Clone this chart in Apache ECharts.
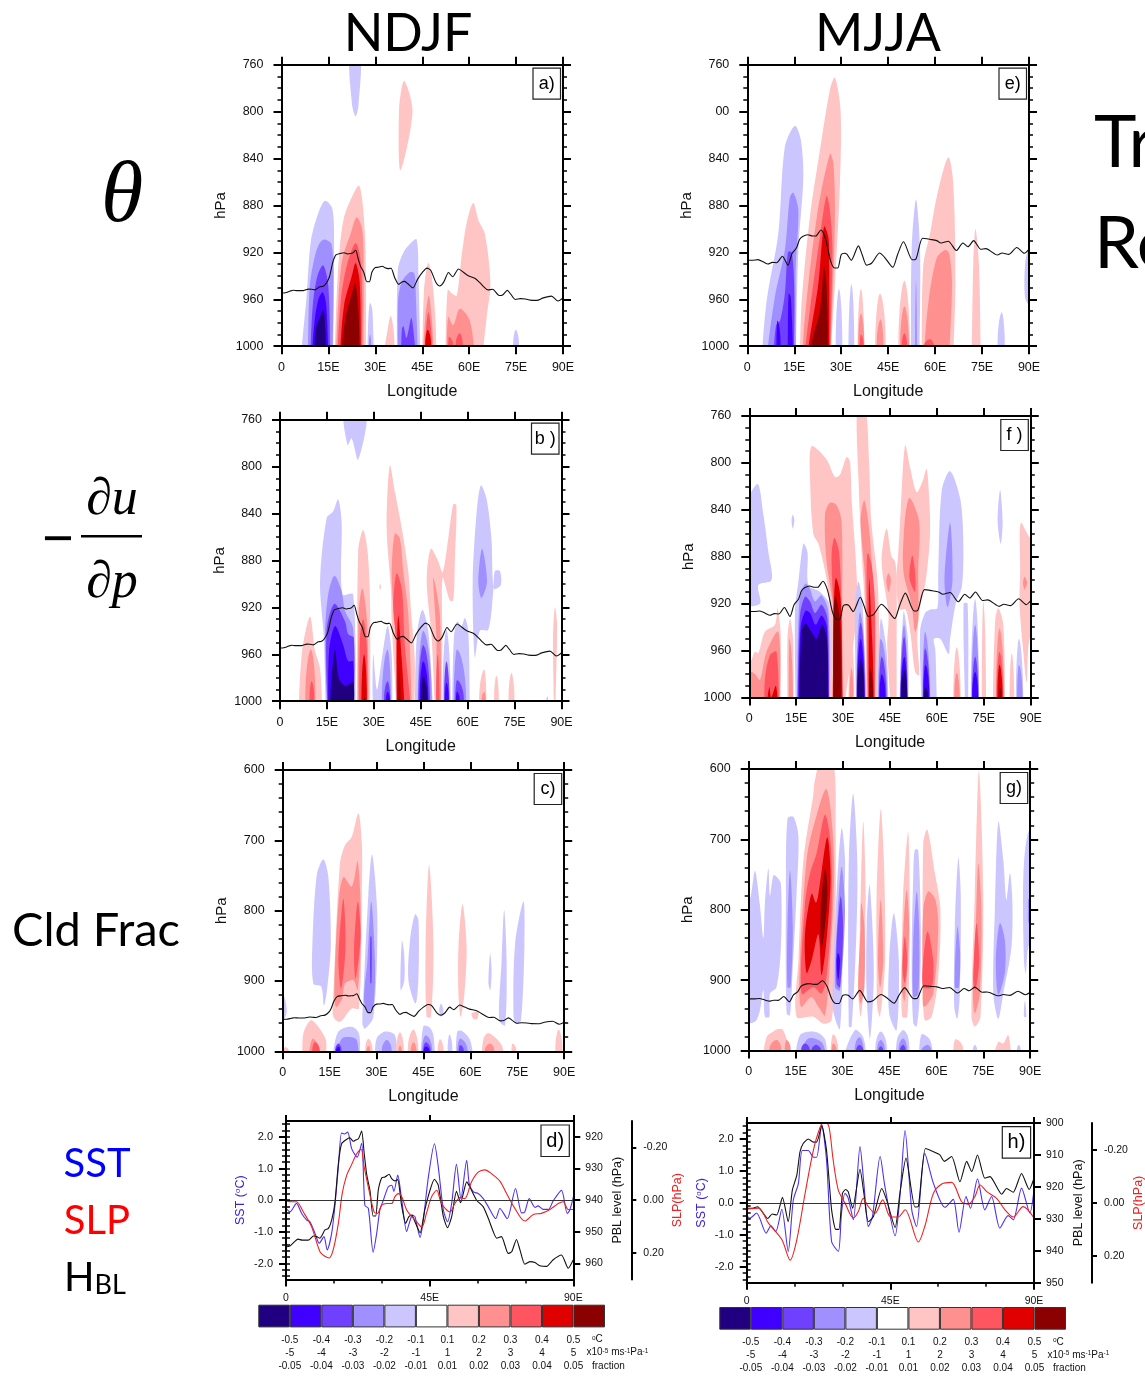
<!DOCTYPE html>
<html><head><meta charset="utf-8">
<style>html,body{margin:0;padding:0;background:#fff;overflow:hidden}#c{width:1145px;height:1377px}</style>
<script src="https://cdn.jsdelivr.net/npm/echarts@6/dist/echarts.min.js"></script>
</head><body><div id="c"></div>
<script>
// ---------- values ----------
const levelColors = {'-5':'#200080','-4':'#4000ff','-3':'#7040ff','-2':'#a090ff','-1':'#ccc6ff','0':'#ffffff','1':'#ffc4c4','2':'#ff9090','3':'#ff5560','4':'#e00000','5':'#8b0000'};
const colorbarLevels = [-5,-4,-3,-2,-1,0,1,2,3,4,5];
const rowSST = ['-0.5','-0.4','-0.3','-0.2','-0.1','0.1','0.2','0.3','0.4','0.5'];
const rowDudp = ['-5','-4','-3','-2','-1','1','2','3','4','5'];
const rowCld = ['-0.05','-0.04','-0.03','-0.02','-0.01','0.01','0.02','0.03','0.04','0.05'];

const ndjfPBL = [[0,954.7],[1.2,954.5],[2.8,953],[3.7,952.3],[5.1,952.6],[7,952.6],[8.6,951.3],[9.6,951.5],[10.6,952],[12.2,949.4],[13.3,948.9],[14.3,946.3],[15.3,941],[16.4,928.5],[17.4,922.2],[18.7,921],[20,920.3],[21.1,921.4],[21.8,921],[22.7,920.6],[23.7,918.2],[24.5,925.3],[25.3,932],[26.3,936.9],[27.3,945],[28.1,945],[28.9,936.9],[30,932.9],[31,932.7],[32.3,931.8],[33.1,933.2],[34.1,933.9],[35,933.5],[36.2,941.6],[37.5,947.3],[38.5,945.2],[39.4,944.7],[40.4,946.8],[42,950.3],[43.5,943],[45.1,936.9],[46.5,933.4],[47.7,935.3],[49.3,945.2],[50.6,948.7],[51.9,945.2],[53.4,937.2],[54.7,940.8],[56.6,934.2],[57.6,935.8],[59.7,940],[61.8,942.1],[63.4,945.8],[64.9,949.9],[66,952],[67.5,951.5],[69.6,956.8],[70.7,956.3],[72.2,952.4],[73.3,955.7],[74.8,960.2],[76.4,959.4],[78,959.7],[79.5,960.7],[81.6,960.9],[83.7,958.8],[86.3,957.3],[88.4,961.5],[90,958.8]];
const ndjfSST = [[0,-.26],[1.25,-.37],[3.3,-.1],[4.9,-.42],[6.5,-.63],[7.5,-.68],[9.1,-1.05],[10.4,-1.36],[11.9,-1.15],[12.9,-1.57],[14.3,-1.05],[15.3,-.2],[16.4,1.05],[17.4,2.12],[18.3,2.09],[19.3,2.15],[20.6,1.62],[22.3,1.36],[23.7,1.8],[24.7,-.16],[25.8,-.26],[27.3,-1.64],[28.4,-1.05],[29.4,-.31],[30.5,0],[32,.42],[33.1,.47],[33.8,.28],[35,.79],[36.2,.05],[37.8,-.99],[38.6,-.73],[39.6,-.47],[40.4,-.52],[42,-1.17],[43,-.63],[44.6,.73],[46.5,1.78],[47.7,1.05],[49.3,-.31],[50.6,-.68],[51.9,-.1],[53.4,1.13],[54.8,.05],[56.6,1.26],[57.4,.52],[58.7,.26],[60.2,.21],[61.8,.05],[63.4,-.21],[65.7,-.58],[67,-.26],[69.3,-.58],[71.9,.37],[73.8,-.4],[74.8,-.37],[76.2,.05],[78,-.23],[79,-.18],[80.6,-.29],[82.2,-.29],[83.7,-.02],[86.3,.31],[88.1,-.42],[88.9,-.31],[90,.1]];
const ndjfSLP = [[0,.0025],[1.8,.006],[3.3,.006],[5.4,.044],[8,.1],[10.6,.194],[12.2,.2125],[13.5,.219],[14.8,.1875],[16.4,.0875],[17.6,-.025],[19,-.094],[20.4,-.131],[22.1,-.175],[23.5,-.194],[24.5,-.125],[26,-.0375],[27.6,.044],[28.6,.05],[30,.019],[31.5,.0125],[33.1,.0125],[34.1,-.0125],[35.2,-.025],[36.2,-.015],[37.8,.0375],[39.4,.0625],[40.9,.081],[42.5,.1025],[44,.05],[45.6,-.0125],[47.2,-.0375],[48.7,.0125],[51.4,.044],[52.9,.0125],[54.5,-.01],[56,-.006],[58.1,-.069],[60.2,-.106],[62.3,-.115],[64.4,-.1],[67,-.0725],[69.1,-.025],[71.7,.031],[74.8,.079],[77.5,.054],[80,.05],[82.7,.035],[85.3,.0125],[86.8,.006],[88.4,.035],[90,.035]];
const mjjaPBL = [[0,926.7],[1.6,926.7],[3.4,926.2],[5.2,928.3],[6.6,929.9],[8,928.5],[9.4,928.8],[11.2,923.3],[13,930.9],[14.3,921],[15.7,916.3],[16.7,909],[17.7,906.4],[19.3,905],[20.9,906],[21.9,906],[23.5,900.9],[25,908.5],[26.6,927.2],[27.9,933.3],[28.9,933.3],[30,922],[31,920.8],[31.8,921.5],[33.2,926.7],[35.5,914.5],[36.7,922],[38.1,930.9],[39.7,929.3],[42.3,920.5],[43.8,924],[46.5,932.7],[48,922],[49.9,911],[52.7,926.3],[53.8,926],[56,908],[58.5,909],[60.5,910],[61.9,912],[64.2,910.5],[66.8,918.4],[68.9,912],[70.5,915.2],[72.3,910],[74.6,917.3],[76.2,916.8],[79.9,922.3],[81.4,920.5],[83.5,921.7],[86.1,915.8],[88.5,920.8],[90,917.3]];
const mjjaSST = [[0,-.41],[1,-.48],[3.1,-.32],[6.1,-.95],[7.6,-.72],[9.1,-.9],[11,-.2],[13,-1.52],[14.6,.09],[16.2,.61],[17.4,1.64],[19.3,1.64],[20.9,1.43],[21.9,1.43],[23.5,2.44],[25,1.34],[26.6,-1.21],[28.7,-1.52],[29.7,-.32],[30.8,.3],[31.8,.15],[33.4,-.53],[35.5,1.76],[36.7,.61],[38.1,-.74],[39.4,-.43],[41.8,1.45],[43.3,.51],[46.5,-1.03],[48,.2],[49.6,2.26],[51.7,-.22],[53.2,-.74],[55.8,1.55],[58.5,.61],[62.1,-.14],[64.7,.11],[66.5,-.92],[68.7,.2],[70.1,-.17],[72.3,.75],[74.6,-.22],[76.7,.2],[79.3,-.79],[81.9,-.4],[83.5,-.53],[86.1,.46],[88.7,-.32],[90,.41]];
const mjjaSLP = [[0,.024],[3.7,.02],[6.8,.076],[11,.138],[13.6,.215],[15.7,.138],[18.3,-.036],[20.9,-.198],[23,-.284],[24.5,-.31],[25.8,-.284],[27.1,-.16],[28.7,-.048],[30.8,.001],[33.4,.057],[35,.032],[36.5,-.017],[38.1,.014],[40.2,.039],[42.6,-.011],[44.9,.051],[47.5,.053],[49.6,.026],[53.8,.147],[55.8,.088],[58.5,-.036],[61.1,-.071],[64.2,-.077],[67.3,-.005],[69.4,.005],[71.5,-.024],[73.1,-.067],[75.2,-.042],[78.3,-.017],[80.9,.026],[83.5,.053],[86.6,.014],[90,.057]];

// filled regions: [level, lon,hPa, lon,hPa, ...]
const shapesA = [
[-1,21.8,750,22.6,795,23.7,804,24.6,795,25.2,750],
[1,39.2,774,41.9,800,38,850,37.6,798],
[-1,6.2,1012,8,958,9.4,910,11.7,887,13.9,876,16.3,883,16.8,918,16.5,1012],
[-2,8.4,1012,9,950,10.5,925,12,913,13.6,909,16,913,16.6,950,16.3,1012],
[-3,9.2,1012,10,965,11.5,940,13.3,931,14.8,945,15.4,975,15.5,1012],
[-4,9.7,1012,10.5,980,11.8,960,13.2,954,14.3,965,15,1012],
[-5,10.5,1012,11,985,12.3,975,13.4,969,14,985,14.4,1012],
[1,17,1012,17.6,960,18.5,920,20,890,23,870,24.8,863,26,880,26.9,920,27,1012],
[2,17.4,1012,18.3,955,19.5,925,22,905,24,890,25.8,900,26.3,940,26.2,1012],
[3,17.8,1012,19,960,21,930,23.7,912,25.2,925,25.8,960,25.6,1012],
[4,18.6,1012,20,965,22.5,940,23.7,929,25,945,25.4,1012],
[5,19,1012,20.5,975,22.5,955,23.6,946,24.6,970,25,1012],
[-1,27.4,1012,27.8,975,28.3,963,29,968,29.3,985,29.6,1012],
[-2,27.9,1012,28.3,990,28.7,1012],
[1,32.5,1012,34,985,34.9,974,35.8,985,36.3,1012],
[-1,36.9,1012,37.2,935,39,920,41,913,43.2,909,43.8,940,44.4,1012],
[-2,37.2,1012,37.3,960,38.5,945,41,937,42.5,938,43,960,43.6,1012],
[-3,38.2,1012,38.5,985,39,983,40,993,41.5,976,42.3,990,43,1012],
[1,45,1012,45.5,955,46.3,935,47,929,48,940,49.2,975,49.5,1012],
[2,45.2,1012,46,975,47.1,957,48,975,48.7,1012],
[3,45.6,1012,46.4,980,47,971,47.8,985,48.2,1012],
[4,45.9,1012,46.7,986,47.9,1012],
[1,52.4,1012,53.1,952,54.5,955,56,957,57.5,925,59.2,895,61.3,878,63,893,65,904,66.8,946,65.6,975,64.2,1012],
[2,52.8,1012,53.3,975,54.9,982,57,968,60.2,978,61.8,1012],
[3,53.3,1012,53.5,992,55,1012],
[3,55.6,1012,57,989,58,1012],
[-1,74,1012,74.9,986,76,1012]];

const shapesB = [
[-1,20.6,750,21.6,782,22.9,776,25,794,27.7,750],
[-1,14.6,1012,14,946,12.8,898,14.9,844,17,838,18.6,828,19.7,847,19.9,909,23.4,909,24.2,1012],
[-2,15.1,1012,14.4,943,15.4,909,17.4,893,19.7,906,20.8,923,23.4,938,23.6,1012],
[-3,15.2,1012,14.9,940,17.4,917,20.8,932,21.8,943,23.6,946,23.6,1012],
[-4,15.4,1012,15.7,957,17.6,936,20.2,952,21.8,966,23.4,966,23.6,1012],
[-5,16,1012,16.3,986,17.6,956,18.8,980,20.8,987,23.4,984,23.6,1012],
[1,5.9,1012,7.1,957,9.6,928,11.2,957,12.8,972,13.5,1012],
[2,8,1012,9.9,956,11.4,1012],
[3,9.4,1012,10.1,983,11,1012],
[1,24.7,1012,25,872,26.6,854,28,872,28.8,918,28.8,1012],
[2,24.8,1012,25.2,923,26.3,904,27.8,930,28.4,1012],
[3,25.3,1012,25.6,945,26.6,930,27.7,950,28,1012],
[4,26,1012,26.9,960,27.8,1012],
[5,26.8,1012,27,996,27.3,1012],
[-1,29.6,1012,29.8,960,31,990,32.5,965,34.4,936,35.7,960,35.9,1012],
[-2,32.5,1012,34.4,956,35.5,1012],
[-3,33.2,1012,34.4,983,35.3,1012],
[-4,33.8,1012,34.4,992,35.2,1012],
[1,32,900,31.8,902,32,905,32.3,902],
[1,37.3,1012,35.7,932,35.5,906,34.1,852,35.1,799,36.7,821,38.9,852,41,889,41.9,923,43.1,966,42.9,1012],
[2,37.6,1012,37.6,960,36.2,918,35.7,889,36.7,857,38.3,861,39.4,889,41,925,42.2,1012],
[3,37.5,1012,37,946,36.2,918,37.3,891,39,905,39.9,952,42,1012],
[4,37.3,1012,37.3,969,37.8,927,38.9,963,39.9,1012],
[5,37.9,1012,38.1,972,38.5,1012],
[-1,43.1,1012,43.7,946,45.5,922,47.4,940,49,1012],
[-2,44,1012,45.8,940,48.6,1012],
[-3,44.2,1012,45.8,952,48,1012],
[-4,44.6,1012,45.8,966,47.5,1012],
[-5,45,1012,45.8,979,47.2,1012],
[1,49.5,1012,48.5,946,46.9,898,48.2,870,50.5,880,52,890,53.8,861,55.4,832,56.4,833,55.9,880,55.4,914,54.3,914,52,895,51.9,946,51.7,1012],
[2,49.8,1012,50,946,49,895,51.1,926,51.5,1012],
[3,49.9,1012,50.4,960,51,1012],
[-1,51.9,1012,53.2,939,54.6,1012],
[-3,52.4,1012,53.2,966,54.2,1012],
[-4,52.7,1012,53.2,984,54,1012],
[-1,55,1012,55.6,946,56.7,932,58,936,59.1,929,60.2,940,60.7,1012],
[-2,55.5,1012,56.6,956,59.6,1012],
[-3,56,1012,56.6,982,58.9,1012],
[-4,56.2,1012,56.6,992,57.5,1012],
[-1,64.2,816,62.8,841,61.6,898,62.3,963,63.9,940,66.6,939,68.2,906,68.7,889,70.3,889,70.6,901,68.4,904,67.6,861,66,827],
[-2,64.6,870,63.4,898,64.4,912,66.2,898],
[1,63.6,1012,65.3,973,66,1012],
[2,64.4,1012,65.3,992,65.8,1012],
[1,68.4,1012,69.2,978,70,1012],
[1,73,1012,74,976,75,1012],
[1,87.9,920,88.6,935,88,1012,87.6,1012,87.3,946],
[-1,85.1,1012,85.5,996,85.8,1012]];

const shapesC = [
[-1,13,727,10.9,749,9.5,847,9.8,904,12.3,908,13.2,935,14.3,908,15.4,847,14.6,752],
[1,24.2,662,22.1,695,19.9,707,18.3,733,16.2,918,16.2,951,18.3,958,22.1,939,24.4,939,25.3,776,25.3,704],
[2,24,730,22.1,766,19.4,752,17.8,790,16.5,918,17.1,937,19,925,19.9,904,22.6,899,24,913,25,823],
[3,19.4,783,17.8,870,18.7,911,20.1,851],
[3,24,787,22.8,856,23.3,897,24.9,837],
[-1,28.5,720,27.4,776,25.8,918,25.5,961,26.3,968,29,951,30.3,823,29.5,752],
[-2,28.3,787,27.1,870,26,927,27.4,944,29,937,29.5,870],
[-3,28,837,28,903,28.4,903,28.4,837],
[-1,38.1,842,37.7,913,38.9,899,38.8,860],
[-1,42.3,805,40.7,842,40.2,899,42.5,932,43.4,894,43.4,813],
[1,46.8,735,45.7,847,46,951,47.4,951,48.2,847],
[1,57.5,791,56.2,851,56.2,918,56.9,951,58.1,918,58.8,851],
[-1,66.3,861,65.8,904,66.4,913,66.8,885],
[-1,70.8,799,70,870,69.2,956,71.1,963,71.6,870],
[-1,77,787,74.3,847,73.8,951,74.8,961,76.2,956,77.3,847],
[-1,50.6,932,50,942,50.6,951,51.4,942],
[1,60.4,946,62.5,944,62.2,954,61,954],
[-1,0.2,920,1.3,942,0.2,956,-1.5,940],
[1,9,956,6.6,975,6.3,1012,13.8,1012,13.8,984,11.4,965],
[2,9.5,982,8.2,1012,12.3,1012,11.4,991],
[3,9.4,1012,10.3,987,11.9,1012],
[1,0.3,1012,0.8,994,2,1012],
[-1,22.1,965,17.8,972,15.9,1012,24.7,1012,24.4,975],
[-2,22.1,980,18.9,982,16.5,1012,24.4,1012,23.7,984],
[-3,16.7,1012,17.8,989,18.9,1012],
[-4,17,1012,17.8,993,18.4,1012],
[1,26.3,1012,27.4,982,28.8,1012],
[2,26.8,1012,27.4,992,28,1012],
[-1,32.7,972,30,982,29.5,1012,36.5,1012,35.9,977],
[-2,31.6,1012,33.3,984,34.9,1012],
[1,36.2,1012,37.5,973,38.8,1012],
[2,37,1012,37.5,992,38.1,1012],
[1,39.9,1012,41.8,969,43.4,1012],
[2,40.9,1012,41.8,987,42.8,1012],
[-1,44.1,1012,45,964,47,966,48.2,977,48.7,1012],
[-2,44.5,1012,45.7,977,47.9,1012],
[-3,44.9,1012,45.7,987,47.4,1012],
[-4,45,1012,45.7,993,47,1012],
[1,49.5,1012,50.3,983,51.5,1012],
[-1,52.7,1012,53.3,976,54.3,1012],
[-1,55.3,1012,55.8,972,57.3,971,59.8,983,61,1012],
[-2,55.8,1012,56.7,982,59.2,1012],
[-3,56.3,1012,56.7,991,58,1012],
[1,63.6,1012,64.2,982,65.8,974,70,991,70.6,1012],
[2,64.5,1012,66.3,989,67.7,1012],
[1,73.1,1012,73.5,989,74.8,1012],
[1,87.1,1012,88.2,969,89.5,1012]];

const shapesE = [
[-1,4.6,1012,6.2,961,9.9,904,12,830,15.2,812,17.1,824,17.9,856,16.3,918,15.5,1012],
[-2,6.2,1012,8.8,958,12,918,13.6,873,14.7,869,16.3,884,15.5,932,15.5,1012],
[-3,8.3,1012,9.2,982,10.5,978,12,955,13,920,14.2,920,15,950,14.9,1012],
[-4,12.9,1012,13.2,955,13.9,958,14.7,1012],
[-4,9.3,1012,9.6,978,10.7,1012],
[1,16.8,1012,17.4,961,20,890,23.2,833,26.5,780,28,771,29.8,799,29.6,861,28,947,26.6,1012],
[2,17.6,1012,18.4,975,22.2,890,26.4,836,27.5,844,28,890,26.6,1012],
[3,18.2,1012,20,969,23.2,907,25.3,872,26.4,884,27.2,918,26.4,1012],
[4,19,1012,22.7,947,24.5,898,25.9,907,26.2,932,26.2,1012],
[5,19.2,1012,23.2,969,24.5,932,25.3,947,25.9,1012],
[-1,28.2,1012,29.3,951,30.4,1012],
[-1,32.3,1012,33.3,947,34.2,1012],
[1,35.2,1012,36.3,951,37.4,1012],
[2,35.4,1012,36.3,972,37.4,1012],
[3,35.9,1012,36.3,990,37.2,1012],
[1,40.8,1012,42.4,955,44.3,1012],
[2,41.3,1012,42.6,977,43.5,1012],
[1,48.2,1012,50.2,944,52,1012],
[2,48.8,1012,50.2,966,51.7,1012],
[3,49.3,1012,50.2,989,51.1,1012],
[-1,52.3,1012,52.5,918,53.9,875,55.2,918,55,1012],
[-2,53.6,1012,53.9,944,54.2,1012],
[1,55.7,1012,56.2,932,58.4,904,60.5,873,64.2,839,65.8,861,66.5,947,65.8,1012],
[2,56.4,1012,57.8,964,60.5,925,63.2,918,64.5,921,65.4,947,64.5,1012],
[3,56.4,1012,58.4,994,59.6,1012],
[1,71.7,1012,72.2,929,72.9,900,74,929,74.6,1012],
[-1,79.9,1012,81.3,971,82.3,1012],
[-1,92,918,89.8,918,88.7,932,88.7,958,89.8,964,92,964]];

const shapesF = [
[-1,2.6,818,-2,844,-2,920,3.4,920,2.9,904,7.1,900,6.1,876,4.5,844],
[-1,13.9,844,13.5,849,13.9,856,14.4,849],
[1,19.9,786,24.7,797,27.4,812,29,810,31.1,795,32.2,799,32.8,835,34,880,34.6,925,33.5,950,30.3,1012,25.7,1012,25.8,927,24.7,899,22.1,869,20.5,861,19.5,820],
[1,34.5,750,35,820,36,880,37,925,37.3,1012,41,1012,41.5,950,41,900,39,850,38.3,800,37,750],
[1,31.7,1012,32.7,950,33.6,1012],
[2,32,1012,32.7,975,33.3,1012],
[2,26.5,1012,26.9,927,24.7,884,24.2,844,25.8,834,27.9,836,29.5,850,29.7,921,29.8,1012],
[3,26.9,1012,26.9,927,26.3,879,27.2,864,28.7,876,29.5,927,29.9,1012],
[4,26.7,1012,27,925,27.6,898,28.6,905,29.3,921,29.8,1012],
[5,26.9,1012,27,925,27.6,913,29,935,29.3,1012],
[2,37.8,1012,37,899,35.6,850,36.8,832,38.6,864,40,940,40.2,1012],
[3,38,1012,37.5,899,37.8,877,39.1,887,40.2,921,40.2,1012],
[4,38.2,1012,38.3,899,39.3,950,39.9,1012],
[5,38.3,1012,38.6,975,39.6,1012],
[1,45.2,1012,44.1,955,44.5,930,42.3,884,43.9,856,45.5,880,46.6,884,47.1,899,47.1,955,47.1,1012],
[1,49.8,785,51.5,805,53.5,825,55.5,815,56.7,805,57.5,830,57.8,860,56.5,899,54.5,925,53.7,950,54.3,981,53,978,51.5,945,50,925,48,925,47,899,47.5,882,48.2,851],
[2,44.5,894,43.8,900,44.5,910,45.3,900],
[2,51.2,830,49.6,853,49.3,893,51.9,921,53,944,54,933,54,893,54.3,850],
[3,52.1,879,51.2,898,53,910,53,893],
[-1,34.1,1012,33.8,950,33.8,921,34.9,901,36.2,921,37.5,1012],
[-2,34.2,1012,35.4,927,37.2,1012],
[-3,34.3,1012,35.6,936,37,1012],
[-4,34.4,1012,35.6,950,36.9,1012],
[-5,34.5,1012,35.6,967,36.8,1012],
[-1,14.8,1012,14.6,927,15.7,901,17.3,869,18.6,876,18.9,904,22.6,910,25.6,921,25.8,1012],
[-2,15.2,1012,16,918,17.8,903,19.2,906,21,918,23.1,913,25.3,927,25.6,1012],
[-3,15.4,1012,16.2,930,17.8,914,19.4,918,21,928,23.1,921,25,933,25.5,1012],
[-4,15.7,1012,16.4,940,18,926,19.4,928,21.2,938,23.1,930,24.8,940,25.3,1012],
[-5,16,1012,16.7,944,18,937,19.9,944,21.5,950,23.3,938,24.8,950,25.3,1012],
[1,-2,970,0.2,970,1.8,961,2.9,962,5,944,8.2,938,9,924,10,944,10,1012,-2,1012],
[2,-2,990,0.2,978,1.8,980,3.4,985,5.5,961,9.3,944,9.8,1012,-2,1012],
[3,4.8,1012,5,984,6.6,964,8.7,961,9.5,1012],
[4,5.4,1012,6.4,991,7,1000,8.5,990,9.2,1012],
[1,12.2,1012,12.2,950,13,933,14,950,14.1,1012],
[2,12.6,1012,12.8,950,14,1012],
[-1,64.2,807,61.5,824,60.4,894,60.1,924,58,925,56.2,928,54.6,944,55.1,1012,60,1012,59.5,960,59,950,61,950,63.7,963,64.2,950,66,920,68,905,68.4,864,67.4,830],
[-1,68.5,920,69,1012,70,1012,69.8,920],
[-2,64.2,851,62.4,899,63.4,923,65,899],
[-2,55.3,1012,56.2,944,57.8,1012],
[-3,55.5,1012,56.2,958,57.7,1012],
[-4,55.6,1012,56.3,972,57.6,1012],
[-5,55.8,1012,56.3,991,57.2,1012],
[-1,40.9,1012,42,933,43.9,960,44.5,1012],
[-2,41.2,1012,42,950,44.2,1012],
[-3,41.4,1012,42.3,965,43.9,1012],
[-4,41.6,1012,42.3,980,43.6,1012],
[-1,48,1012,49.3,927,50.7,950,50.9,1012],
[-2,48.2,1012,49.5,938,50.7,1012],
[-3,48.4,1012,49.5,948,50.6,1012],
[-4,48.3,1012,49.6,965,50.5,1012],
[-5,48.5,1012,49.6,976,50.5,1012],
[1,65.2,1012,66.3,957,67.6,1012],
[2,65.5,1012,66.3,979,67.3,1012],
[-1,70.8,1012,72.2,916,73.5,1012],
[-2,71,1012,72.2,938,73.4,1012],
[-3,71.2,1012,72.2,965,73.3,1012],
[-4,71.2,1012,72.2,978,73.2,1012],
[1,74.3,1012,74.8,918,75.7,1012],
[1,77.8,1012,78.6,935,79.6,924,81.2,938,81.8,1012],
[2,78.8,1012,80,941,81.5,1012],
[3,79,1012,80,961,81.2,1012],
[4,79.3,1012,80,972,81,1012],
[5,79.8,1012,80.2,991,80.7,1012],
[1,83.2,1012,83.9,962,84.7,1012],
[-1,85.2,1012,86.2,950,87.6,1012],
[-2,85.6,1012,86.2,972,87.4,1012],
[-1,80.2,823,79.4,850,80.4,869,81,850],
[1,86.8,851,86.6,893,86.4,921,87.6,961,88.7,987,89.6,950,92,950,92,864,89.8,864],
[2,88,897,87.5,902,88,908,88.8,902]];

const shapesG = [
[-1,-2,800,0.4,785,2,745,3.5,790,4.7,840,5.2,790,6.3,741,6.8,780,7.9,751,8.9,753,10.3,763,10.3,853,8.9,910,6.8,919,6.6,952,5.2,952,4.7,914,3.6,943,2,959,-2,959],
[-1,14.3,668,12.4,670,11.9,777,12.1,947,13.2,950,14,890,15.3,777,15.9,696],
[-2,13.2,744,12.4,824,12.4,910,13.4,910,14.1,824],
[1,21,620,23,590,27,590,27.8,682,27.6,872,26.5,957,23.9,962,20.7,952,15.3,952,15.9,872,17.5,729,20.7,635],
[2,24.9,629,20.7,682,18.5,729,16.4,872,16.7,938,20,924,22.3,938,24.4,950,26,872,27.3,729],
[3,24.4,665,21.7,720,19.6,748,18,791,16.9,919,20.7,910,23.3,919,24.9,895,26.5,800,26.2,706],
[4,25.1,697,22.3,777,21.5,790,20.1,777,18,834,18.5,890,20.1,872,22.3,835,23.3,893,24.9,843,26.2,753],
[5,24.4,741,23,800,23.3,857,24.9,800,25.1,763],
[-1,29.7,684,28.1,777,27,895,27,943,29.2,969,30.2,824,30.8,729],
[-2,29.7,739,28.5,800,27.6,910,29.2,914,30.8,800],
[-3,29.4,781,28.1,848,28.1,905,29.2,910,30.2,824],
[-4,28.6,861,28.1,872,28.6,900,29.2,872],
[-1,33.4,635,32,729,32,966,32.9,966,34.5,824,34.7,729],
[1,36.6,675,35.6,824,35.1,919,35.8,952,36.6,919,37.4,777],
[2,36,790,35.8,824,35,910,35.8,933,37,910,37,824],
[-1,38.6,765,37.7,824,37.7,919,38.8,983,40,895,39.3,800],
[1,42.2,657,40.9,777,40.9,872,41.1,938,42,952,43.6,872,43.2,729],
[2,42.2,786,41.3,872,42,910,43,872],
[-1,46.4,805,44.9,872,44.9,947,47.3,971,48,872],
[1,51,690,49.4,777,48.9,895,49.1,952,50.7,952,51.5,824],
[2,50.5,772,49.5,824,48.9,910,49.9,929,51.3,824],
[3,49.9,838,49.2,885,49.9,904,50.7,872],
[-1,53.1,715,54.2,715,55,824,54.7,919,53.7,966,52.6,961,52.1,872,52.6,753],
[-2,53.7,774,52.6,848,52.6,924,54.2,919,54.5,824],
[1,57.1,686,55.8,706,55.8,919,56.3,957,58.5,952,60.6,895,61.3,800,59.5,747],
[2,57.4,774,55.8,800,55.6,919,56,938,59,919,60.6,824,59.7,786],
[3,57.2,831,55.8,872,55.8,910,58.5,910,59,872],
[-1,67,726,65.9,824,65.7,938,66.7,955,67.5,919,67.8,777],
[-2,66.7,824,65.9,910,67.2,910,67.6,860],
[1,73.6,603,72.3,777,71.2,952,72.3,966,74.1,952,75,777],
[2,73.4,734,72.6,824,71.7,919,72.3,947,73.9,919,74.4,800],
[3,72.8,819,71.8,900,72.5,914,73.7,872],
[-1,79.8,675,78.7,800,78.2,919,79.8,955,81.4,919,84,853,84.3,786,83.5,748,82.4,786,81.4,729],
[-2,80.3,819,79,872,79.8,921,81.9,890,81.9,843],
[-1,89.4,689,87.8,753,88,872,88.6,890,89.4,853,92,830,92,689],
[-2,89.6,783,89.3,800,89.6,820,92,820,92,780],
[-1,88.3,929,88,952,88.8,952],
[1,4.5,1012,5.8,980,7.9,973,9,970,11,971,13.7,1012],
[2,6.5,1012,8.9,985,10.5,1012],
[2,11.5,1012,12.1,985,13.5,1012],
[-1,14.8,1012,16.4,978,19.6,973,22.3,975,24.5,985,25.1,1012],
[-2,16,1012,19,983,23.3,988,24.8,1012],
[-3,16.7,1012,18,990,19.6,1012],
[-3,20,1012,21.5,992,23.2,1012],
[1,26.2,1012,27,977,28.7,1012],
[2,26.5,1012,27,990,28.1,1012],
[-1,30.2,1012,34,971,36.6,981,37.7,1012],
[-2,33.8,1012,35.4,981,36.8,1012],
[-3,34.3,1012,35.4,992,36.7,1012],
[-1,40.4,1012,42.2,973,44.3,1012],
[-2,41,1012,42.2,985,43.6,1012],
[-3,41.5,1012,42.2,994,43,1012],
[-1,47,1012,47.5,983,49.4,971,51,981,51.5,1012],
[-2,47.8,1012,49.4,983,50.7,1012],
[-3,48.3,1012,49.4,992,50.2,1012],
[-1,54.4,1012,55.3,977,58,985,59,1012],
[-2,55.2,1012,57.2,992,58.4,1012],
[1,65.4,1012,66.2,984,68.7,1012],
[-1,71.6,1012,72.3,992,73.1,1012],
[1,78.2,1012,79.8,988,81.4,990,83,978,84,1012],
[-1,85.7,1012,86.4,992,87,1012]];

// ---------- panel layout ----------
const font = '"Liberation Sans", Arial, sans-serif';
const txt = '#111';
const lonLabel = v => v === 0 ? '0' : v + 'E';
const BASE = 1012, BELOW = 1045;
const contourPanels = [
 {l:281.5,t:64.7,w:281.5,h:281.5,min:760,max:1000,step:40,minor:4,shapes:shapesA,pbl:ndjfPBL,tag:'a)'},
 {l:280,t:419.7,w:281.5,h:281.5,min:760,max:1000,step:40,minor:4,shapes:shapesB,pbl:ndjfPBL,tag:'b )'},
 {l:282.7,t:770,w:281.5,h:281.3,min:600,max:1000,step:100,minor:5,shapes:shapesC,pbl:ndjfPBL,tag:'c)'},
 {l:747.3,t:64.7,w:281.7,h:281.5,min:760,max:1000,step:40,minor:4,shapes:shapesE,pbl:mjjaPBL,tag:'e)',drop800:true},
 {l:749.3,t:416,w:281.5,h:281.5,min:760,max:1000,step:40,minor:4,shapes:shapesF,pbl:mjjaPBL,tag:'f )'},
 {l:748.7,t:769,w:281.5,h:281.5,min:600,max:1000,step:100,minor:5,shapes:shapesG,pbl:mjjaPBL,tag:'g)'}
];
const linePanels = [
 {l:286,t:1121,w:287.3,h:158.4,pblMin:915,pblMax:965,sst:ndjfSST,slp:ndjfSLP,pbl:ndjfPBL,tag:'d)',tagX:541,tagY:1125,cbL:258.3,cbT:1304.7},
 {l:746.7,t:1123,w:287.3,h:159.7,pblMin:900,pblMax:950,sst:mjjaSST,slp:mjjaSLP,pbl:mjjaPBL,tag:'h)',tagX:1002.3,tagY:1126.7,cbL:719.3,cbT:1307}
];
const range = (a,b,s) => { const r=[]; for(let i=0;;i++){ const v=+(a+i*s).toFixed(4); if(v>b+1e-9)break; r.push(v);} return r; };

// Outline of a region: three-point lobes standing on the ground become domes,
// and ground corners continue straight down so smoothing does not pinch them.
const domeSteps = [[0.08,0.72],[0.3,0.36],[0.66,0.09]];
function outline(s){
  const pts=[];
  for(let i=1;i<s.length;i+=2) pts.push([s[i],s[i+1]]);
  if(pts.length===3 && pts[0][1]===BASE && pts[2][1]===BASE){
    const [a,c,b]=pts, h=BASE-12-c[1];
    const left=domeSteps.map(d=>[a[0]+(c[0]-a[0])*d[0],c[1]+h*d[1]]);
    const right=domeSteps.map(d=>[b[0]+(c[0]-b[0])*d[0],c[1]+h*d[1]]).reverse();
    return [[a[0],BELOW],a,...left,c,...right,b,[b[0],BELOW]];
  }
  const out=[];
  pts.forEach((q,i)=>{
    if(q[1]!==BASE){out.push(q);return;}
    const prevBase=pts[(i+pts.length-1)%pts.length][1]===BASE;
    if(prevBase) out.push([q[0],BELOW],q); else out.push(q,[q[0],BELOW]);
  });
  return out;
}

const grid=[],xAxis=[],yAxis=[],series=[],graphic=[];
const axisBase = () => ({z:6,axisLine:{show:true,onZero:false,lineStyle:{color:'#000',width:2}},axisTick:{show:true,length:8,lineStyle:{color:'#000',width:2}},splitLine:{show:false}});
const labelStyle = (size,margin)=>({show:true,color:txt,fontFamily:font,fontSize:size,margin});
const tagBox = (x,y,w,h,text,size)=>{
  graphic.push({type:'rect',z:20,shape:{x,y,width:w,height:h},style:{fill:'#fff',stroke:'#222',lineWidth:1.2}});
  graphic.push({type:'text',z:21,style:{x:x+w/2,y:y+h/2+0.5,text,fill:'#000',font:size+'px '+font,align:'center',verticalAlign:'middle'}});
};

contourPanels.forEach(p=>{
  const g=grid.length;
  grid.push({left:p.l,top:p.t,width:p.w,height:p.h,outerBoundsMode:'none'});
  const xi=xAxis.length, yi=yAxis.length;
  xAxis.push(Object.assign(axisBase(),{gridIndex:g,type:'value',position:'bottom',min:0,max:90,interval:15,
    axisLabel:Object.assign(labelStyle(12.5,15),{formatter:lonLabel,hideOverlap:false}),
    name:'Longitude',nameLocation:'middle',nameGap:37,nameMoveOverlap:false,nameTextStyle:{color:txt,fontFamily:font,fontSize:16}}));
  xAxis.push(Object.assign(axisBase(),{gridIndex:g,type:'value',position:'top',min:0,max:90,interval:15,axisLabel:{show:false}}));
  const minor={show:true,splitNumber:p.minor,length:4,lineStyle:{color:'#000',width:1.5}};
  yAxis.push(Object.assign(axisBase(),{gridIndex:g,type:'value',position:'left',inverse:true,min:p.min,max:p.max,interval:p.step,minorTick:minor,
    axisLabel:Object.assign(labelStyle(12.5,18),{formatter:v=>(p.drop800&&v===800)?'00':String(v)}),
    name:'hPa',nameLocation:'middle',nameRotate:90,nameGap:53,nameMoveOverlap:false,nameTextStyle:{color:txt,fontFamily:font,fontSize:15}}));
  yAxis.push(Object.assign(axisBase(),{gridIndex:g,type:'value',position:'right',inverse:true,min:p.min,max:p.max,interval:p.step,minorTick:minor,axisLabel:{show:false}}));
  const sorted=p.shapes.slice().sort((a,b)=>Math.abs(a[0])-Math.abs(b[0]));
  series.push({type:'custom',coordinateSystem:'cartesian2d',xAxisIndex:xi,yAxisIndex:yi,clip:true,silent:true,z:2,
    encode:{x:0,y:1},data:sorted.map(s=>[s[1],s[2]]),
    renderItem:(params,api)=>{
      const s=sorted[params.dataIndex];
      const points=outline(s).map(q=>api.coord(q));
      return {type:'polygon',shape:{points,smooth:0.3},style:{fill:levelColors[s[0]],stroke:null}};
    }});
  series.push({type:'line',xAxisIndex:xi,yAxisIndex:yi,data:p.pbl,showSymbol:false,smooth:0.25,z:4,silent:true,lineStyle:{color:'#111',width:1.1}});
  const bw=27.5,bh=31;
  tagBox(p.l+p.w-bw-2.5,p.t+3.5,bw,bh,p.tag,18);
});

linePanels.forEach(p=>{
  const g=grid.length;
  grid.push({left:p.l,top:p.t,width:p.w,height:p.h,outerBoundsMode:'none'});
  const xi=xAxis.length, yi=yAxis.length;
  xAxis.push(Object.assign(axisBase(),{gridIndex:g,type:'value',position:'bottom',min:0,max:90,interval:45,
    axisTick:{show:true,length:7,lineStyle:{color:'#000',width:2}},
    minorTick:{show:true,splitNumber:3,length:4,lineStyle:{color:'#000',width:1.5}},
    axisLabel:Object.assign(labelStyle(10.5,13),{formatter:lonLabel})}));
  xAxis.push(Object.assign(axisBase(),{gridIndex:g,type:'value',position:'top',min:0,max:90,interval:45,axisTick:{show:true,length:6,lineStyle:{color:'#000',width:2}},axisLabel:{show:false}}));
  const sstMajor=[-2,-1,0,1,2];
  const pblMajor=range(p.pblMin%10===0?p.pblMin:p.pblMin+5,p.pblMax,10);
  const supRich={s:{fontSize:8,verticalAlign:'top',color:'#4020e0',fontFamily:font}};
  // SST, left
  yAxis.push(Object.assign(axisBase(),{gridIndex:g,type:'value',position:'left',min:-2.5,max:2.5,
    axisTick:{show:true,length:7,customValues:sstMajor,lineStyle:{color:'#000',width:2}},
    axisLabel:Object.assign(labelStyle(11,13),{customValues:sstMajor,formatter:v=>v.toFixed(1)}),
    name:'SST ({s|o}C)',nameLocation:'middle',nameRotate:90,nameGap:39,nameMoveOverlap:false,nameTextStyle:{color:'#4020e0',fontFamily:font,fontSize:12.5,rich:supRich}}));
  yAxis.push({gridIndex:g,type:'value',position:'left',z:6,min:-2.5,max:2.5,axisLine:{show:false},splitLine:{show:false},axisLabel:{show:false},
    axisTick:{show:true,length:4,customValues:range(-2.4,2.4,0.2),lineStyle:{color:'#000',width:1.5}}});
  // PBL, right
  yAxis.push(Object.assign(axisBase(),{gridIndex:g,type:'value',position:'right',inverse:true,min:p.pblMin,max:p.pblMax,
    axisTick:{show:true,length:7,customValues:pblMajor,lineStyle:{color:'#000',width:2}},
    axisLabel:Object.assign(labelStyle(10.5,12),{customValues:pblMajor,formatter:v=>String(v)}),
    name:'PBL level (hPa)',nameLocation:'middle',nameRotate:90,nameGap:38,nameMoveOverlap:false,nameTextStyle:{color:txt,fontFamily:font,fontSize:12.5}}));
  yAxis.push({gridIndex:g,type:'value',position:'right',z:6,inverse:true,min:p.pblMin,max:p.pblMax,axisLine:{show:false},splitLine:{show:false},axisLabel:{show:false},
    axisTick:{show:true,length:4,customValues:range(p.pblMin%2===0?p.pblMin:p.pblMin+1,p.pblMax,2),lineStyle:{color:'#000',width:1.5}}});
  // SLP, offset right
  const slpMajor=[-0.2,0,0.2];
  yAxis.push(Object.assign(axisBase(),{gridIndex:g,type:'value',position:'right',offset:58,inverse:true,min:-0.3,max:0.3,
    axisTick:{show:true,length:5,customValues:slpMajor,lineStyle:{color:'#000',width:2}},
    axisLabel:Object.assign(labelStyle(10.5,12),{customValues:slpMajor,formatter:v=>v.toFixed(2)}),
    name:'SLP(hPa)',nameLocation:'middle',nameRotate:90,nameGap:40,nameMoveOverlap:false,nameTextStyle:{color:'#f02020',fontFamily:font,fontSize:12.5}}));
  series.push({type:'line',xAxisIndex:xi,yAxisIndex:yi,data:p.sst,showSymbol:false,smooth:0.25,z:3,silent:true,lineStyle:{color:'#5030f0',width:1.1},
    markLine:{silent:true,symbol:'none',animation:false,label:{show:false},lineStyle:{color:'#333',width:1.1,type:'solid'},data:[{yAxis:0}]}});
  series.push({type:'line',xAxisIndex:xi,yAxisIndex:yi+2,data:p.pbl,showSymbol:false,smooth:0.2,z:4,silent:true,lineStyle:{color:'#111',width:1.1}});
  series.push({type:'line',xAxisIndex:xi,yAxisIndex:yi+4,data:p.slp,showSymbol:false,smooth:0.3,z:4,silent:true,lineStyle:{color:'#f02020',width:1.1}});
  tagBox(p.tagX,p.tagY,28.3,31.5,p.tag,20);

  // colour bar
  const gc=grid.length;
  grid.push({left:p.cbL,top:p.cbT,width:346.7,height:22.7,outerBoundsMode:'none'});
  const xc=xAxis.length, yc=yAxis.length;
  xAxis.push({gridIndex:gc,type:'category',data:colorbarLevels.map(String),show:false});
  xAxis.push({gridIndex:gc,type:'value',min:0,max:11,interval:1,position:'bottom',axisLine:{show:false},axisTick:{show:false},splitLine:{show:false},
    axisLabel:{show:true,color:txt,fontFamily:font,fontSize:10,lineHeight:13.2,margin:6,showMinLabel:false,showMaxLabel:false,
      formatter:v=>(v>=1&&v<=10)?[rowSST[v-1],rowDudp[v-1],rowCld[v-1]].join('\n'):''}});
  yAxis.push({gridIndex:gc,type:'value',min:0,max:1,show:false});
  series.push({type:'bar',xAxisIndex:xc,yAxisIndex:yc,barWidth:'100%',silent:true,
    data:colorbarLevels.map(l=>({value:1,itemStyle:{color:levelColors[l],borderColor:'#333',borderWidth:1}}))});
  const ux=p.cbL+346.7;
  const sup={s:{fontSize:6.5,verticalAlign:'top',fill:txt,fontFamily:font}};
  graphic.push({type:'text',style:{x:ux-13,y:p.cbT+30,text:'{s|o}C',fill:txt,font:'10px '+font,rich:sup}});
  graphic.push({type:'text',style:{x:ux-18.5,y:p.cbT+43,text:'x10{s|-5} ms{s|-1}Pa{s|-1}',fill:txt,font:'10px '+font,rich:sup}});
  graphic.push({type:'text',style:{x:ux-13,y:p.cbT+56.5,text:'fraction',fill:txt,font:'10px '+font}});
});

// big labels outside the panels
const big='Lato, "Open Sans", sans-serif', serif='"Liberation Serif", serif';
const t=(x,y,text,f,fill,align)=>graphic.push({type:'text',style:{x,y,text,font:f,fill:fill||'#000',align:align||'center',verticalAlign:'middle'}});
t(408,34,'NDJF','52px '+big);
t(878,34,'MJJA','52px '+big);
t(122,198,'θ','italic 86px '+serif);
t(58,543,'−','bold 56px '+serif);
t(112,500,'∂u','italic 52px '+serif);
t(112,583,'∂p','italic 52px '+serif);
graphic.push({type:'rect',shape:{x:81,y:535,width:61,height:2.5},style:{fill:'#000'}});
t(96,931,'Cld Frac','47px '+big);
t(97,1164,'SST','40px '+big,'#0000ff');
t(97,1221,'SLP','40px '+big,'#ff0000');
graphic.push({type:'text',style:{x:64,y:1278,text:'H{b|BL}',font:'40px '+big,fill:'#000',verticalAlign:'middle',rich:{b:{fontSize:27,fontFamily:'Lato',verticalAlign:'bottom',padding:[14,0,0,0]}}}});
t(1094,144,'Tr','72px '+big,'#000','left');
t(1094,245,'Re','72px '+big,'#000','left');

echarts.init(document.getElementById('c'),null,{renderer:'canvas'}).setOption({
  animation:false,backgroundColor:'#fff',grid,xAxis,yAxis,series,graphic
});
</script></body></html>
